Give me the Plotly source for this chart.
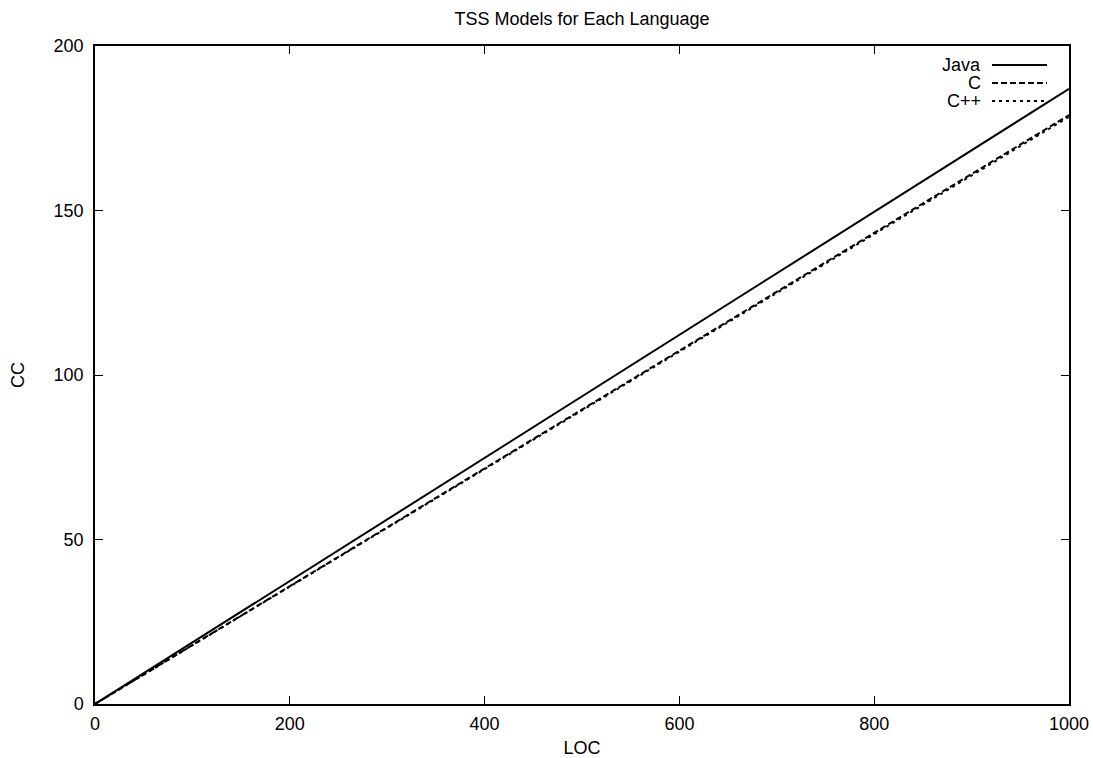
import plotly.graph_objects as go

# Data
loc = [0, 200, 400, 525, 600, 800, 1000]
java_cc = [0, 37.4, 74.8, 98.2, 112.2, 149.6, 187.0]
c_cc = [0, 35.8, 71.6, 94.0, 107.4, 143.2, 179.0]
cpp_cc = [0, 35.7, 71.4, 93.7, 107.1, 142.8, 178.5]

series_names = ["Java", "C", "C++"]
series_values = [java_cc, c_cc, cpp_cc]
dashes = ["solid", "6px,3px", "3px,4px"]
widths = [2, 2, 2]

x_ticks = [0, 200, 400, 600, 800, 1000]
y_ticks = [0, 50, 100, 150, 200]

FONT = "Liberation Sans, Arial, Helvetica, sans-serif"
FS = 18

W, H = 1093, 758
PL, PR, PT, PB = 95, 1069, 46, 704  # plot area in page pixels

fig = go.Figure()
for name, vals, d, w in zip(series_names, series_values, dashes, widths):
    fig.add_trace(go.Scatter(x=loc, y=vals, mode="lines", name=name,
                             line=dict(color="black", width=w, dash=d),
                             showlegend=False))

# Custom gnuplot-style legend (text right-aligned, sample to the right)
leg_y = [65, 83, 101]
for name, d, w, yy in zip(series_names, dashes, widths, leg_y):
    yf = (PB - yy) / (PB - PT)
    fig.add_annotation(text=name, xref="paper", yref="paper",
                       x=(983 - PL) / (PR - PL), y=yf,
                       xanchor="right", yanchor="middle", showarrow=False,
                       font=dict(family=FONT, size=FS, color="black"))
    fig.add_shape(type="line", xref="paper", yref="paper",
                  x0=(992 - PL) / (PR - PL), x1=(1047 - PL) / (PR - PL),
                  y0=yf, y1=yf,
                  line=dict(color="black", width=w, dash=d))

axis_common = dict(showgrid=False, zeroline=False, showline=True, linecolor="black",
                   linewidth=1.5, mirror="ticks", ticks="inside", ticklen=8,
                   tickcolor="black", tickwidth=1, automargin=False,
                   tickfont=dict(family=FONT, size=FS, color="black"))

fig.update_layout(
    width=W, height=H,
    margin=dict(l=PL, r=W - PR, t=PT, b=H - PB),
    paper_bgcolor="white", plot_bgcolor="white",
    title=dict(text="TSS Models for Each Language",
               x=((PL + PR) / 2) / W,
               xref="container", xanchor="center",
               y=1 - 19 / H, yanchor="middle",
               font=dict(family=FONT, size=FS, color="black")),
    xaxis=dict(range=[0, 1000], tickvals=x_ticks, ticklabelstandoff=3,
               title=dict(text="LOC", font=dict(family=FONT, size=FS, color="black"), standoff=8),
               **axis_common),
    yaxis=dict(range=[0, 200], tickvals=y_ticks, ticklabelstandoff=6,
               title=dict(text="CC", font=dict(family=FONT, size=FS, color="black"), standoff=24),
               **axis_common),
)

fig.write_html("out.html", config={"displayModeBar": False},
               post_script="document.body.style.margin='0';document.body.style.overflow='hidden';")
